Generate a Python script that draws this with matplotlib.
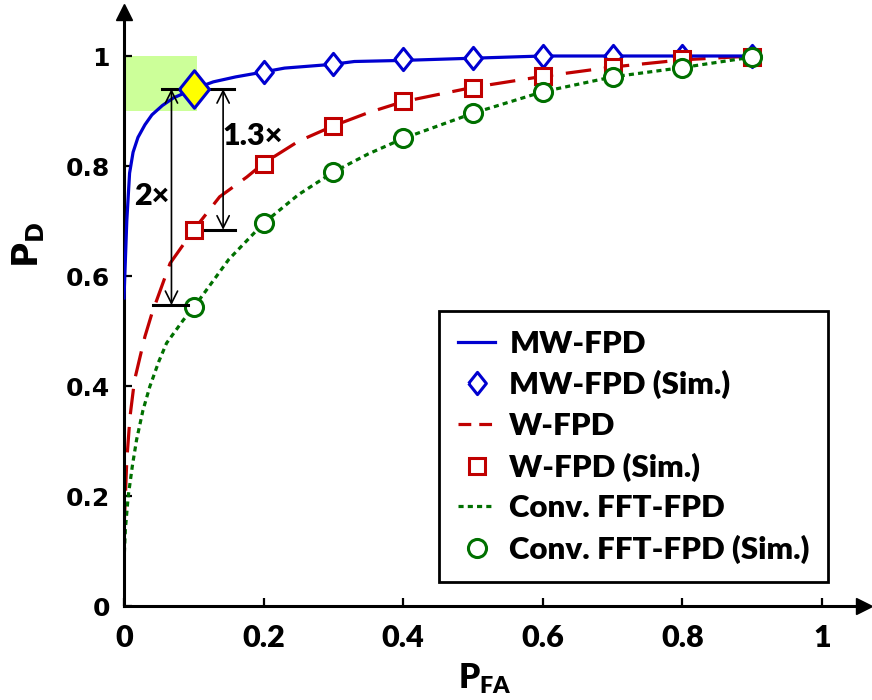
import numpy as np
import matplotlib
matplotlib.use("Agg")
import matplotlib.pyplot as plt
from matplotlib.patches import Rectangle

W = 'heavy'
plt.rcParams['font.family'] = ['Lato', 'DejaVu Sans']
plt.rcParams['font.weight'] = W
plt.rcParams['mathtext.fontset'] = 'custom'
plt.rcParams['mathtext.bf'] = 'Lato:heavy'
plt.rcParams['mathtext.rm'] = 'Lato:heavy'

# analytic curves
mw_x = [0, 0.004, 0.008, 0.013, 0.02, 0.03, 0.04, 0.055, 0.071, 0.1, 0.128, 0.16, 0.2,
        0.23, 0.26, 0.3, 0.33, 0.4, 0.45, 0.5, 0.55, 0.6, 0.7, 0.8, 0.9]
mw_y = [0.56, 0.70, 0.787, 0.825, 0.852, 0.875, 0.893, 0.91, 0.924, 0.94, 0.953, 0.962, 0.971,
        0.978, 0.981, 0.985, 0.99, 0.992, 0.994, 0.996, 0.998, 1.0, 1.0, 1.0, 1.0]

w_x = [0, 0.002, 0.004, 0.0086, 0.015, 0.023, 0.03, 0.04, 0.066, 0.1, 0.137, 0.176,
       0.2, 0.25, 0.3, 0.35, 0.4, 0.5, 0.6, 0.7, 0.8, 0.9]
w_y = [0.14, 0.2, 0.265, 0.344, 0.41, 0.453, 0.49, 0.532, 0.623, 0.684, 0.744, 0.78,
       0.805, 0.845, 0.873, 0.897, 0.917, 0.943, 0.963, 0.98, 0.993, 1.0]

conv_x = [0, 0.002, 0.006, 0.012, 0.018, 0.027, 0.037, 0.05, 0.061, 0.085, 0.1, 0.15,
          0.2, 0.25, 0.3, 0.35, 0.4, 0.5, 0.6, 0.7, 0.8, 0.9]
conv_y = [0.08, 0.14, 0.199, 0.255, 0.302, 0.355, 0.399, 0.445, 0.478, 0.52, 0.543, 0.63,
          0.696, 0.748, 0.789, 0.822, 0.85, 0.896, 0.935, 0.962, 0.979, 0.998]

# simulation points
sim_x = [0.1, 0.2, 0.3, 0.4, 0.5, 0.6, 0.7, 0.8, 0.9]
mw_sim = [0.94, 0.971, 0.986, 0.994, 0.997, 1.0, 1.0, 1.0, 1.0]
w_sim = [0.684, 0.804, 0.873, 0.918, 0.942, 0.964, 0.98, 0.995, 0.999]
conv_sim = [0.543, 0.696, 0.789, 0.851, 0.896, 0.935, 0.962, 0.979, 0.999]

xticks = [0, 0.2, 0.4, 0.6, 0.8, 1]
yticks = [0, 0.2, 0.4, 0.6, 0.8, 1]

BLUE, RED, GREEN = '#0000d0', '#c00000', '#007000'
diamond = [(-0.4, 0), (0, 0.5), (0.4, 0), (0, -0.5), (-0.4, 0)]

fig = plt.figure(figsize=(8.72, 7), dpi=100)
ax = fig.add_axes([124/872, 94/700, 740/872, 594/700])
ax.set_xlim(0, 740/698)
ax.set_ylim(0, 594/550)

ax.add_patch(Rectangle((0, 0.9), 0.104, 0.1, facecolor='#ccff99', edgecolor='none', zorder=0))

ax.plot(mw_x, mw_y, color=BLUE, lw=2.3, label='MW-FPD', zorder=3)
ax.plot(sim_x, mw_sim, ls='none', marker=diamond, ms=16, mfc='white', mec=BLUE, mew=2.2,
        label='MW-FPD (Sim.)', zorder=4)
ax.plot(w_x, w_y, color=RED, lw=2.3, ls=(0, (8, 4)), label='W-FPD', zorder=2)
ax.plot(sim_x, w_sim, ls='none', marker='s', ms=11.5, mfc='white', mec=RED, mew=2.2,
        label='W-FPD (Sim.)', zorder=4)
ax.plot(conv_x, conv_y, color=GREEN, lw=2.3, ls=(0, (1.6, 1.3)), label='Conv. FFT-FPD', zorder=2)
ax.plot(sim_x, conv_sim, ls='none', marker='o', ms=13, mfc='white', mec=GREEN, mew=2.2,
        label='Conv. FFT-FPD (Sim.)', zorder=4)

# highlighted point
ax.plot(sim_x[0], mw_sim[0], marker=diamond, ms=27, mfc='#ffff00', mec=BLUE, mew=2.2,
        ls='none', zorder=6)

# gain annotations
ax.plot([0.054, 0.157], [0.94, 0.94], color='k', lw=2.2, zorder=5)
ax.plot([0.116, 0.159], [0.684, 0.684], color='k', lw=2.2, zorder=5)
ax.plot([0.042, 0.092], [0.547, 0.547], color='k', lw=2.2, zorder=5)
arr = dict(arrowstyle='<->', lw=1.2, color='k', shrinkA=0, shrinkB=0, mutation_scale=22)
ax.annotate('', xy=(0.068, 0.547), xytext=(0.068, 0.94), arrowprops=arr, zorder=5)
ax.annotate('', xy=(0.142, 0.684), xytext=(0.142, 0.94), arrowprops=arr, zorder=5)
ax.text(0.0394, 0.745, '2\u00d7', fontsize=22, fontweight=W, ha='center', va='center')
ax.text(0.185, 0.855, '1.3\u00d7', fontsize=22, fontweight=W, ha='center', va='center')

# axes with arrow heads
for s in ['top', 'right']:
    ax.spines[s].set_visible(False)
for s in ['left', 'bottom']:
    ax.spines[s].set_linewidth(2.2)
ax.plot(1, 0, '>k', ms=11, transform=ax.get_yaxis_transform(), clip_on=False)
ax.plot(0, 1, '^k', ms=11, transform=ax.get_xaxis_transform(), clip_on=False)

ax.set_xticks(xticks)
ax.set_xticklabels([f'{t:g}' for t in xticks])
ax.set_yticks(yticks)
ax.set_yticklabels([f'{t:g}' for t in yticks], family='DejaVu Sans', fontsize=18, fontweight='bold')
ax.tick_params(axis='both', direction='in', length=6, width=1.6)
ax.tick_params(axis='x', labelsize=22, pad=13)
ax.tick_params(axis='y', pad=10)

fig.text(485/872, 4/700, r'$\mathbf{P}_{\mathbf{FA}}$', fontsize=24, ha='center', va='bottom')
fig.text(28/872, 1 - 245/700, r'$\mathbf{P}_{\mathbf{D}}$', fontsize=25, ha='center', va='center',
         rotation=90, math_fontfamily='dejavusans')

leg = ax.legend(loc='upper left', bbox_to_anchor=(439/872, 1 - 311/700),
                bbox_transform=fig.transFigure, fontsize=22.5, frameon=True, fancybox=False,
                edgecolor='k', framealpha=1, borderaxespad=0, handlelength=1.2,
                handletextpad=0.45, labelspacing=0.4, borderpad=0.6)
leg.get_frame().set_linewidth(2.0)
for t in leg.get_texts():
    t.set_fontweight(W)
# shorter dash pattern in the legend sample, like the original
leg.get_lines()[2].set_linestyle((0, (4, 2.5)))

fig.savefig('out.png', dpi=100)
